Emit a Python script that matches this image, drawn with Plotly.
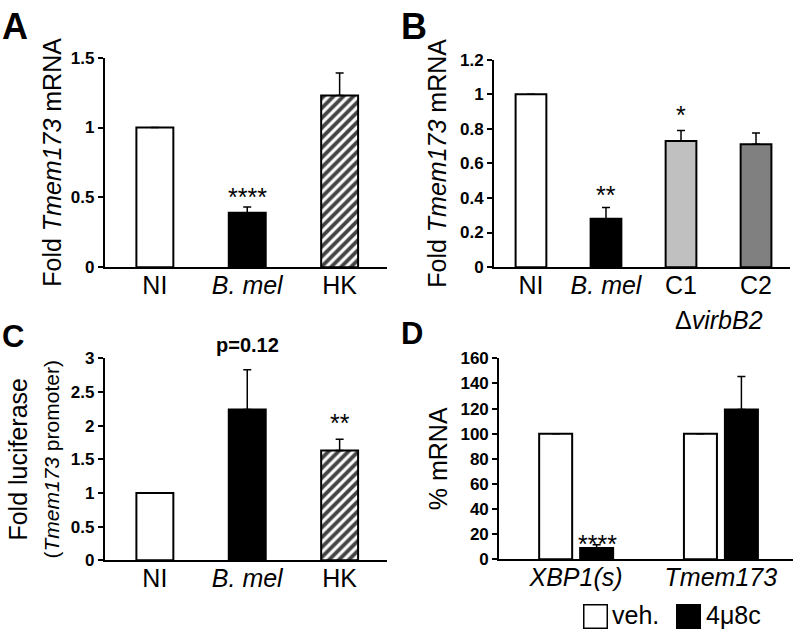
import plotly.graph_objects as go

FONT = "Liberation Sans"

# ---------------- data ----------------
A_categories = ["NI", "B. mel", "HK"]
A_ticktext = ["NI", "<i>B. mel</i>", "HK"]
A_values = [1.0, 0.39, 1.23]
A_errors = [0.0, 0.04, 0.16]
A_notes = ["", "****", ""]

B_categories = ["NI", "B. mel", "C1", "C2"]
B_ticktext = ["NI", "<i>B. mel</i>", "C1", "C2"]
B_values = [1.0, 0.28, 0.73, 0.71]
B_errors = [0.0, 0.065, 0.06, 0.065]
B_notes = ["", "**", "*", ""]
B_group_label = "\u0394<i>virbB2</i>"

C_categories = ["NI", "B. mel", "HK"]
C_ticktext = ["NI", "<i>B. mel</i>", "HK"]
C_values = [1.0, 2.24, 1.63]
C_errors = [0.0, 0.59, 0.17]
C_notes = ["", "<b>p=0.12</b>", "**"]

D_genes = ["XBP1(s)", "Tmem173"]
D_ticktext = ["<i>XBP1(s)</i>", "<i>Tmem173</i>"]
D_veh = [100, 100]
D_veh_err = [0, 0]
D_treat = [9.0, 119.2]
D_treat_err = [2.6, 26.3]
D_notes = ["****", ""]
D_series = ["veh.", "4\u03bc8c"]
D_colors = ["white", "black"]

# ---------------- figure ----------------
fig = go.Figure()

bar_line = dict(color="black", width=2)
err_style = dict(type="data", symmetric=False, color="black", thickness=1.5, width=4)
hatch = dict(shape=["", "", "/"], fgcolor="black", bgcolor="white", fgopacity=1,
             size=7, solidity=0.55)

# Panel A
fig.add_trace(go.Bar(
    x=A_categories, y=A_values, xaxis="x", yaxis="y", width=0.4,
    marker=dict(color=["white", "black", "white"], line=bar_line, pattern=hatch),
    error_y=dict(array=A_errors, arrayminus=[0] * 3, **err_style),
    showlegend=False, hoverinfo="skip"))

# Panel B
fig.add_trace(go.Bar(
    x=B_categories, y=B_values, xaxis="x2", yaxis="y2", width=0.41,
    marker=dict(color=["white", "black", "#c0c0c0", "#808080"], line=bar_line),
    error_y=dict(array=B_errors, arrayminus=[0] * 4, **err_style),
    showlegend=False, hoverinfo="skip"))

# Panel C
fig.add_trace(go.Bar(
    x=C_categories, y=C_values, xaxis="x3", yaxis="y3", width=0.4,
    marker=dict(color=["white", "black", "white"], line=bar_line, pattern=hatch),
    error_y=dict(array=C_errors, arrayminus=[0] * 3, **err_style),
    showlegend=False, hoverinfo="skip"))

# Panel D
fig.add_trace(go.Bar(
    x=D_genes, y=D_veh, xaxis="x4", yaxis="y4", width=0.228, offset=-0.255,
    marker=dict(color=D_colors[0], line=bar_line), name=D_series[0],
    error_y=dict(array=D_veh_err, arrayminus=[0] * 2, **err_style),
    showlegend=False, hoverinfo="skip"))
fig.add_trace(go.Bar(
    x=D_genes, y=D_treat, xaxis="x4", yaxis="y4", width=0.228, offset=0.028,
    marker=dict(color=D_colors[1], line=bar_line), name=D_series[1],
    error_y=dict(array=D_treat_err, arrayminus=[0] * 2, **err_style),
    showlegend=False, hoverinfo="skip"))

# notes above bars
def add_notes(cats, vals, errs, notes, xr, yr, size=25, yshift=-12, xshift=0):
    for c, v, e, t in zip(cats, vals, errs, notes):
        if t:
            fig.add_annotation(x=c, y=v + e, xref=xr, yref=yr, text=t, showarrow=False,
                               yanchor="bottom", yshift=yshift, xshift=xshift,
                               font=dict(family=FONT, size=size, color="black"))

add_notes(A_categories, A_values, A_errors, A_notes, "x", "y", yshift=-6)
add_notes(B_categories[:2], B_values[:2], B_errors[:2], B_notes[:2], "x2", "y2", yshift=-4)
add_notes(B_categories[2:], B_values[2:], B_errors[2:], B_notes[2:], "x2", "y2", yshift=0)
add_notes(C_categories[1:2], C_values[1:2], C_errors[1:2], C_notes[1:2], "x3", "y3", size=20, yshift=12)
add_notes(C_categories[2:], C_values[2:], C_errors[2:], C_notes[2:], "x3", "y3", yshift=0)
add_notes(D_genes, D_treat, D_treat_err, D_notes, "x4", "y4", yshift=-15, xshift=21)

# group label under C1/C2
fig.add_annotation(x=2.5, y=1 - 320 / 644, xref="x2", yref="paper", text=B_group_label, showarrow=False,
                   font=dict(family=FONT, size=25, color="black"))

# legend for panel D (boxes + labels)
for name, col, bx, tx in zip(D_series, D_colors, [595, 688.5], [611, 705]):
    fig.add_annotation(x=bx / 800, y=1 - 625.5 / 644, xref="paper", yref="paper", text=" ",
                       showarrow=False, width=22, height=22, borderpad=0, bgcolor=col,
                       bordercolor="black", borderwidth=1.5, xanchor="center", yanchor="middle",
                       font=dict(size=10))
    fig.add_annotation(x=tx / 800, y=1 - 624 / 644, xref="paper", yref="paper", text=name,
                       showarrow=False, xanchor="left", yanchor="middle", borderpad=0,
                       font=dict(family=FONT, size=25, color="black"))

# panel letters
for letter, px, py, sz in [("A", 1, 18, 36), ("B", 400, 18, 36), ("C", 1, 337, 31), ("D", 400, 334, 31)]:
    fig.add_annotation(x=px / 800, y=1 - py / 644, xref="paper", yref="paper", text=f"<b>{letter}</b>",
                       showarrow=False, xanchor="left", yanchor="middle", borderpad=0,
                       font=dict(family=FONT, size=sz, color="black"))

def xax(domain, rng, cats, ticktext):
    return dict(domain=domain, range=rng, type="category", showline=True, linecolor="black",
                linewidth=2, ticks="", tickvals=cats, ticktext=ticktext, ticklabelstandoff=-5,
                tickfont=dict(family=FONT, size=25, color="black"), showgrid=False,
                zeroline=False, fixedrange=True)

def yax(domain, rng, dtick, title, anchor, standoff):
    return dict(domain=domain, range=rng, dtick=dtick, tick0=0, showline=True, linecolor="black",
                linewidth=2, ticks="outside", ticklen=5, tickwidth=2, tickcolor="black",
                tickfont=dict(family=FONT, size=17, color="black", weight="bold"),
                showgrid=False, zeroline=False, anchor=anchor, fixedrange=True,
                title=dict(text=title, font=dict(family=FONT, size=25, color="black"), standoff=standoff))

fig.update_layout(
    width=800, height=644, margin=dict(l=0, r=0, t=0, b=0),
    paper_bgcolor="white", plot_bgcolor="white",
    font=dict(family=FONT, color="black"),
    showlegend=False,
    xaxis=xax([0.131, 0.484], [-0.542, 2.515], A_categories, A_ticktext) | dict(anchor="y"),
    yaxis=yax([0.587, 0.922], [0, 1.5], 0.5, "Fold <i>Tmem173</i> mRNA", "x", 2),
    xaxis2=xax([0.6175, 0.9875], [-0.493, 3.453], B_categories, B_ticktext) | dict(anchor="y2"),
    yaxis2=yax([0.587, 0.919], [0, 1.2], 0.2, "Fold <i>Tmem173</i> mRNA", "x2", 6),
    xaxis3=xax([0.131, 0.484], [-0.542, 2.515], C_categories, C_ticktext) | dict(anchor="y3"),
    yaxis3=yax([0.118, 0.441], [0, 3], 0.5,
               "Fold luciferase<br><span style='font-size:21px'>(<i>Tmem173</i> promoter)</span>", "x3", 4),
    xaxis4=xax([0.624, 0.991], [-0.531, 1.497], D_genes, D_ticktext) | dict(anchor="y4"),
    yaxis4=yax([0.1196, 0.441], [0, 160], 20, "% mRNA", "x4", 6),
)

fig.write_html("out.html", config={"displayModeBar": False},
               post_script="document.body.style.margin='0';")
